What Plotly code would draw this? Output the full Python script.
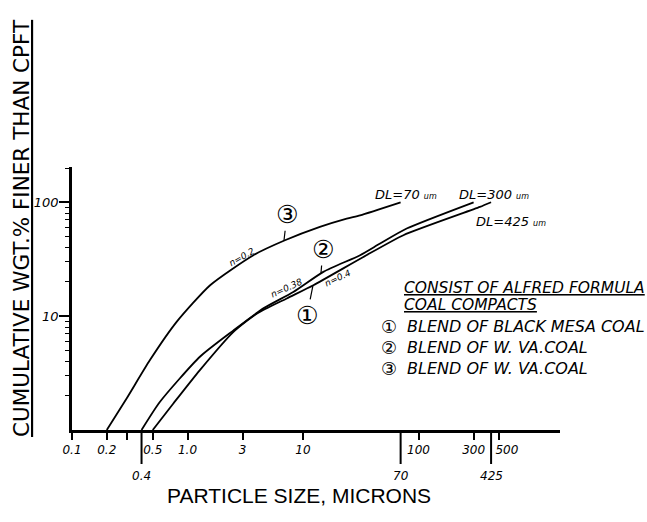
import numpy as np
import plotly.graph_objects as go

# Particle size (microns) vs cumulative wt.% finer for each coal blend
size_1 = [0.5, 0.754, 1.28, 2.5, 3.97, 7.23, 12.3, 33.3, 74, 340, 425]
cpft_1 = [1, 1.71, 3.36, 7.28, 10.5, 14.3, 18.7, 33.1, 51.4, 91, 100]
size_2 = [0.4, 0.578, 1.28, 2.5, 4.54, 8.24, 15.0, 31.2, 46.5, 79, 300]
cpft_2 = [1, 1.77, 4.4, 7.5, 11.7, 16.3, 24.5, 34.3, 43.4, 58.8, 100]
size_3 = [0.2, 0.298, 0.473, 0.805, 1.57, 3.72, 6.98, 14.0, 23.9, 31.2, 70]
cpft_3 = [1, 1.9, 4.11, 8.9, 18.7, 34.3, 46.4, 60.8, 71.9, 76.9, 100]

curve_ids = ["①", "②", "③"]
n_labels = ["n=0.4", "n=0.38", "n=0.2"]
dl_sizes = [425, 300, 70]
legend_lines = ["BLEND OF BLACK MESA COAL", "BLEND OF W. VA.COAL", "BLEND OF W. VA.COAL"]

x_ticks = [0.1, 0.2, 0.3, 0.5, 1, 3, 10, 100, 300, 500]
x_ticktext = ["0.1", "0.2", "", "0.5", "1.0", "3", "10", "100", "300",
              "\u00a0\u00a0\u00a0\u00a0500"]
x_marks = [0.4, 70, 425]          # start / DL sizes marked below the axis
y_ticks = [10, 100]
y_ticktext = ["10", "100"]
y_minor = [2, 3, 4, 5, 6, 7, 8, 9, 20, 30, 40, 50, 60, 70, 80, 90, 200]

W, H = 647, 522
L, R, T, B = 72, 87, 167, 92
X_RANGE = [-1, 3.225]
Y_RANGE = [0, 2.31]

ITAL = dict(family="DejaVu Sans", color="black", style="italic")


def on_curve(xs, ys, x):
    """Interpolate a curve in log-log space."""
    return 10 ** np.interp(np.log10(x), np.log10(xs), np.log10(ys))


def slope_deg(xs, ys, x):
    lx = np.log10(x)
    d = 0.05
    y0 = np.interp(lx - d, np.log10(xs), np.log10(ys))
    y1 = np.interp(lx + d, np.log10(xs), np.log10(ys))
    return np.degrees(np.arctan((y1 - y0) / (2 * d)))


def px(xp, yp):
    """Pixel position -> paper fraction."""
    return (xp - L) / (W - L - R), (H - B - yp) / (H - T - B)


curves = [(size_1, cpft_1), (size_2, cpft_2), (size_3, cpft_3)]

fig = go.Figure()
for xs, ys in curves:
    fig.add_trace(go.Scatter(
        x=xs, y=ys, mode="lines",
        line=dict(color="black", width=1.8, shape="spline", smoothing=0.6),
        showlegend=False, hoverinfo="skip",
    ))

ann = []

# DL labels at the top end of each curve
dl_offsets = [(20, -10, "top"), (20, -2, "bottom"), (5, -2, "bottom")]
for (xs, ys), dl, (dx, dy, ya) in zip(curves, dl_sizes, dl_offsets):
    ann.append(dict(
        x=np.log10(xs[-1]), y=np.log10(ys[-1]), xref="x", yref="y",
        text=f"DL={dl} <span style='font-size:8px'>um</span>",
        showarrow=False, xanchor="center", yanchor=ya,
        xshift=dx, yshift=dy, font=dict(ITAL, size=13),
    ))

# n labels along the curves
n_pos = [(20.1, -7), (7.26, 7), (2.96, 6)]
for (xs, ys), lab, (xn, dy) in zip(curves, n_labels, n_pos):
    ann.append(dict(
        x=np.log10(xn), y=np.log10(on_curve(xs, ys, xn)), xref="x", yref="y",
        text=lab, showarrow=False, textangle=-slope_deg(xs, ys, xn) * 0.85,
        xanchor="center", yanchor="middle",
        yshift=dy, font=dict(ITAL, size=9),
    ))

# circled curve numbers with leader lines
leaders = [(12.2, -6, 30), (14.3, 2, -24), (6.84, 3, -26)]
for (xs, ys), cid, (xl, axo, ayo) in zip(curves, curve_ids, leaders):
    ann.append(dict(
        x=np.log10(xl), y=np.log10(on_curve(xs, ys, xl)), xref="x", yref="y",
        text=cid, showarrow=True, arrowhead=0, arrowwidth=1.2, arrowcolor="black",
        ax=axo, ay=ayo, standoff=0,
        font=dict(family="DejaVu Sans", size=25, color="black"),
    ))

# second-row labels under the long ticks
for v in x_marks:
    ann.append(dict(
        x=np.log10(v), y=px(0, 476)[1], xref="x", yref="paper",
        xanchor="center", yanchor="middle",
        text=f"{v:g}", showarrow=False, font=dict(ITAL, size=12),
    ))


def paper_text(xp, yp, text, font, xanchor="left", angle=0):
    fx, fy = px(xp, yp)
    return dict(x=fx, y=fy, xref="paper", yref="paper", xanchor=xanchor,
                yanchor="middle", text=text, showarrow=False, font=font,
                textangle=angle)


# key text
ann.append(paper_text(402, 288, "<u>CONSIST OF ALFRED FORMULA</u>", dict(ITAL, size=15.5)))
ann.append(paper_text(402, 305, "<u>COAL COMPACTS</u>", dict(ITAL, size=15.5)))
for i, (cid, line) in enumerate(zip(curve_ids, legend_lines)):
    yy = 326 + 21 * i
    ann.append(paper_text(389, yy, cid,
                          dict(family="DejaVu Sans", size=18, color="black"),
                          xanchor="center"))
    ann.append(paper_text(405, yy, line, dict(ITAL, size=16)))

# axis titles
ann.append(paper_text(21, 228, "<u>CUMULATIVE WGT.% FINER THAN CPFT</u>",
                      dict(family="DejaVu Sans", size=21.5, color="black"),
                      xanchor="center", angle=-90))
ann.append(paper_text(299, 495, "PARTICLE SIZE, MICRONS",
                      dict(family="Liberation Sans", size=21, color="black"),
                      xanchor="center"))

# long tick marks for the start / DL sizes
shapes = [
    dict(type="line", xref="x", yref="paper", x0=v, x1=v,
         y0=0, y1=px(0, 464)[1], line=dict(color="black", width=2))
    for v in x_marks
]

fig.update_layout(
    width=W, height=H,
    margin=dict(l=L, r=R, t=T, b=B, pad=0),
    paper_bgcolor="white", plot_bgcolor="white",
    annotations=ann, shapes=shapes,
    xaxis=dict(
        type="log", range=X_RANGE, showgrid=False, zeroline=False,
        showline=True, linecolor="black", linewidth=2.5,
        ticks="outside", ticklen=7, tickwidth=2, tickcolor="black",
        tickvals=x_ticks, ticktext=x_ticktext, tickangle=0,
        tickfont=dict(ITAL, size=12),
    ),
    yaxis=dict(
        type="log", range=Y_RANGE, showgrid=False, zeroline=False,
        showline=True, linecolor="black", linewidth=2.5,
        ticks="outside", ticklen=10, tickwidth=2, tickcolor="black",
        tickvals=y_ticks, ticktext=y_ticktext, ticklabelstandoff=-2,
        tickfont=dict(ITAL, size=13),
        minor=dict(ticks="outside", ticklen=4, tickwidth=1.2, tickcolor="black",
                   tickvals=y_minor),
    ),
)

fig.write_html("out.html")
